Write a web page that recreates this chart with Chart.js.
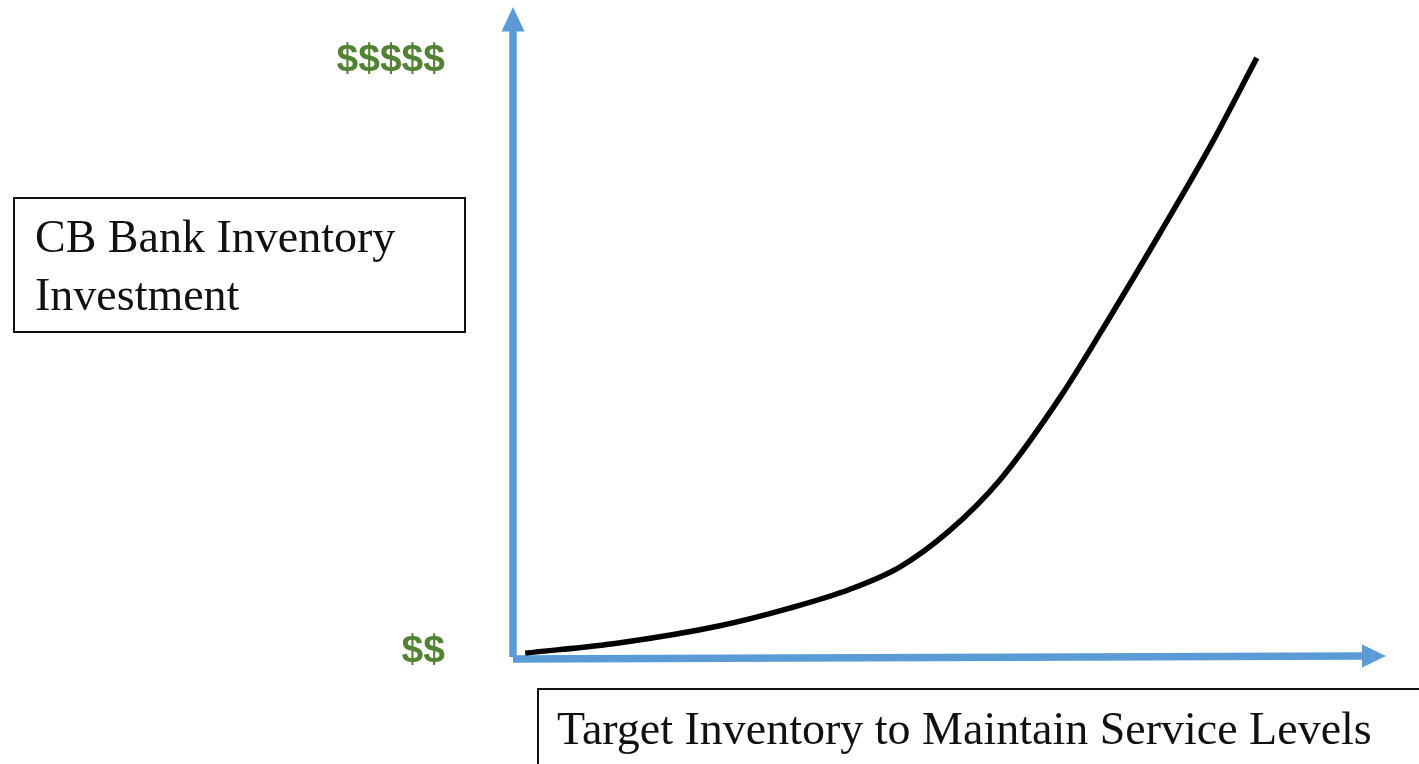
<!DOCTYPE html>
<html>
<head>
<meta charset="utf-8">
<script src="https://cdn.jsdelivr.net/npm/chart.js@4/dist/chart.umd.min.js"></script>
<style>
  html, body { margin: 0; padding: 0; background: #fff; overflow: hidden; }
  #wrap { position: relative; width: 1419px; height: 764px; }
  #chart { position: absolute; left: 0; top: 0; }
  .box {
    position: absolute;
    box-sizing: border-box;
    border: 2px solid #111;
    font-family: "Liberation Serif", "DejaVu Serif", serif;
    font-size: 46px;
    line-height: 58px;
    color: #111;
    white-space: nowrap;
  }
  #yTitle { left: 13px; top: 197px; width: 453px; height: 136px; padding: 9px 0 0 20px; }
  #xTitle { left: 537px; top: 688px; width: 900px; height: 100px; padding: 10px 0 0 18px; }
</style>
</head>
<body>
<div id="wrap">
  <canvas id="chart" width="1419" height="764"></canvas>
  <div class="box" id="yTitle">CB Bank Inventory<br>Investment</div>
  <div class="box" id="xTitle">Target Inventory to Maintain Service Levels</div>
</div>
<script>
(function () {
    'use strict';

    // curve (x: target inventory, y: investment, 0..100 each)
    const inventory = [1.4, 12.3, 23.7, 31.7, 38.6, 44.3, 50.1, 55.8, 62.7, 68.4, 74.1, 79.8, 85.2];
    const investment = [0.9, 2.5, 5.1, 7.8, 10.7, 14.1, 19.8, 27.5, 40.2, 52.5, 65.3, 78.5, 92.2];

    // y axis labels
    const yTickValues = [1.2, 91.9];
    const yTickLabels = ['$$', '$$$$$'];

    const AXIS_BLUE = '#5B9BD5';

    // blue axes with arrow heads
    const arrowAxes = {
        id: 'arrowAxes',
        beforeDatasetsDraw(chart) {
            const { ctx, chartArea } = chart;
            const x0 = chartArea.left;
            const y0 = chartArea.bottom;
            const head = 24;
            const half = 11.5;
            ctx.save();
            ctx.strokeStyle = AXIS_BLUE;
            ctx.fillStyle = AXIS_BLUE;
            ctx.lineWidth = 7.5;
            ctx.lineCap = 'butt';

            // vertical
            ctx.beginPath();
            ctx.moveTo(x0, y0 - 2);
            ctx.lineTo(x0, chartArea.top + head);
            ctx.stroke();
            ctx.beginPath();
            ctx.moveTo(x0, chartArea.top);
            ctx.lineTo(x0 - half, chartArea.top + head + 0.5);
            ctx.lineTo(x0 + half, chartArea.top + head + 0.5);
            ctx.closePath();
            ctx.fill();

            // horizontal
            const yEnd = y0 - 3;
            ctx.beginPath();
            ctx.moveTo(x0, y0);
            ctx.lineTo(chartArea.right - head + 1, yEnd);
            ctx.stroke();
            ctx.beginPath();
            ctx.moveTo(chartArea.right, yEnd);
            ctx.lineTo(chartArea.right - head, yEnd - half);
            ctx.lineTo(chartArea.right - head, yEnd + half);
            ctx.closePath();
            ctx.fill();
            ctx.restore();
        }
    };

    new Chart(document.getElementById('chart'), {
        type: 'line',
        data: {
            datasets: [{
                data: inventory.map((x, i) => ({ x, y: investment[i] })),
                borderColor: '#000',
                borderWidth: 5.5,
                borderCapStyle: 'butt',
                pointRadius: 0,
                cubicInterpolationMode: 'monotone',
                fill: false
            }]
        },
        options: {
            responsive: false,
            animation: false,
            layout: { padding: { top: 7, right: 33, bottom: 105, left: 0 } },
            plugins: { legend: { display: false }, tooltip: { enabled: false } },
            scales: {
                x: {
                    type: 'linear',
                    min: 0,
                    max: 100,
                    display: false
                },
                y: {
                    type: 'linear',
                    min: 0,
                    max: 100,
                    grid: { display: false, drawTicks: false },
                    border: { display: false },
                    afterBuildTicks(scale) {
                        scale.ticks = yTickValues.map(value => ({ value }));
                    },
                    afterFit(scale) {
                        scale.width = 513;
                        scale.paddingTop = 0;
                        scale.paddingBottom = 0;
                    },
                    ticks: {
                        padding: 68,
                        color: '#548235',
                        font: { family: '"Liberation Sans", Arial, sans-serif', size: 39, weight: 'bold' },
                        callback(value) {
                            const i = yTickValues.indexOf(value);
                            return i >= 0 ? yTickLabels[i] : '';
                        }
                    }
                }
            }
        },
        plugins: [arrowAxes]
    });
})();
</script>
</body>
</html>
